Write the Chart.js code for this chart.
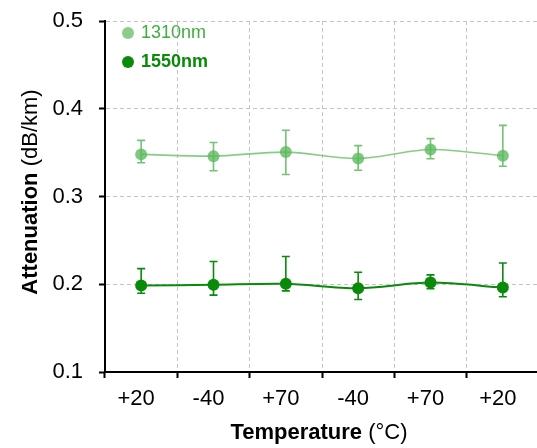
<!DOCTYPE html>
<html>
<head>
<meta charset="utf-8">
<script src="https://cdn.jsdelivr.net/npm/chart.js@4/dist/chart.umd.min.js"></script>
<style>
    html, body { margin: 0; padding: 0; background: #fff; overflow: hidden; }
    #wrap { width: 545px; height: 448px; }
</style>
</head>
<body>
<div id="wrap"><canvas id="attChart" width="545" height="448"></canvas></div>
<script>
// dữ liệu
const categories = ['+20', '-40', '+70', '-40', '+70', '+20'];
const yTicks = [0.1, 0.2, 0.3, 0.4, 0.5];

const att1310 = [0.348, 0.346, 0.3506, 0.3434, 0.3536, 0.3464];
const err1310High = [0.364, 0.3615, 0.3755, 0.358, 0.366, 0.381];
const err1310Low = [0.3385, 0.3294, 0.325, 0.330, 0.343, 0.3344];

const att1550 = [0.1985, 0.1994, 0.2005, 0.1955, 0.2019, 0.1962];
const err1550High = [0.2178, 0.226, 0.2317, 0.2136, 0.2107, 0.2242];
const err1550Low = [0.1898, 0.1876, 0.1925, 0.1827, 0.1948, 0.1858];

const FONT = '"Liberation Sans", Arial, sans-serif';
const light = 'rgba(92, 184, 92, 0.78)';
const lightLine = 'rgba(120, 200, 120, 0.9)';
const dark = '#0a8a0a';
const gridDash = [4, 3];

// vẽ thanh sai số
const errorBars = {
    id: 'errorBars',
    afterDatasetsDraw(chart) {
        const ctx = chart.ctx;
        const yScale = chart.scales.y;
        const sets = [
            { meta: chart.getDatasetMeta(0), hi: err1310High, lo: err1310Low, color: 'rgba(92, 184, 92, 0.85)' },
            { meta: chart.getDatasetMeta(1), hi: err1550High, lo: err1550Low, color: dark }
        ];
        ctx.save();
        sets.forEach(s => {
            ctx.strokeStyle = s.color;
            ctx.lineWidth = 1.6;
            s.meta.data.forEach((pt, i) => {
                const yh = yScale.getPixelForValue(s.hi[i]);
                const yl = yScale.getPixelForValue(s.lo[i]);
                ctx.beginPath();
                ctx.moveTo(pt.x, yh); ctx.lineTo(pt.x, yl);
                ctx.moveTo(pt.x - 4, yh); ctx.lineTo(pt.x + 4, yh);
                ctx.moveTo(pt.x - 4, yl); ctx.lineTo(pt.x + 4, yl);
                ctx.stroke();
            });
        });
        ctx.restore();
    }
};

// tiêu đề trục và chú thích
const labelsPlugin = {
    id: 'labelsPlugin',
    afterDraw(chart) {
        const ctx = chart.ctx;
        ctx.save();
        ctx.textBaseline = 'middle';
        ctx.fillStyle = '#000';

        // trục X
        const boldX = 'bold 22px ' + FONT, normX = '22px ' + FONT;
        ctx.font = boldX;
        const w1 = ctx.measureText('Temperature ').width;
        ctx.font = normX;
        const w2 = ctx.measureText('(°C)').width;
        let x0 = 319 - (w1 + w2) / 2;
        ctx.textAlign = 'left';
        ctx.font = boldX; ctx.fillText('Temperature ', x0, 433);
        ctx.font = normX; ctx.fillText('(°C)', x0 + w1, 433);

        // trục Y
        ctx.translate(31, 192);
        ctx.rotate(-Math.PI / 2);
        ctx.font = boldX;
        const v1 = ctx.measureText('Attenuation ').width;
        ctx.font = normX;
        const v2 = ctx.measureText('(dB/km)').width;
        x0 = -(v1 + v2) / 2;
        ctx.font = boldX; ctx.fillText('Attenuation ', x0, 0);
        ctx.font = normX; ctx.fillText('(dB/km)', x0 + v1, 0);
        ctx.restore();

        // chú thích
        ctx.save();
        ctx.textBaseline = 'middle';
        ctx.textAlign = 'left';
        ctx.fillStyle = 'rgba(120, 196, 120, 0.85)';
        ctx.beginPath(); ctx.arc(128, 33, 6, 0, Math.PI * 2); ctx.fill();
        ctx.fillStyle = '#3fae3f';
        ctx.font = '18px ' + FONT;
        ctx.fillText('1310nm', 141, 33);
        ctx.fillStyle = dark;
        ctx.beginPath(); ctx.arc(128, 62, 6, 0, Math.PI * 2); ctx.fill();
        ctx.font = 'bold 18px ' + FONT;
        ctx.fillText('1550nm', 141, 62);
        ctx.restore();
    }
};

const ctx = document.getElementById('attChart').getContext('2d');
new Chart(ctx, {
    type: 'line',
    data: {
        labels: categories,
        datasets: [
            {
                label: '1310nm',
                data: att1310,
                borderColor: lightLine,
                borderWidth: 1.6,
                backgroundColor: light,
                pointBackgroundColor: light,
                pointBorderWidth: 0,
                pointRadius: 6,
                tension: 0.3
            },
            {
                label: '1550nm',
                data: att1550,
                borderColor: dark,
                borderWidth: 2,
                backgroundColor: dark,
                pointBackgroundColor: dark,
                pointBorderWidth: 0,
                pointRadius: 6,
                tension: 0.3
            }
        ]
    },
    options: {
        responsive: false,
        animation: false,
        layout: { padding: { left: 49, right: 4, top: 21, bottom: 0 } },
        plugins: {
            legend: { display: false },
            tooltip: { enabled: false }
        },
        scales: {
            x: {
                offset: true,
                grid: {
                    offset: true,
                    color: (c) => c.index === 0 ? 'rgba(0,0,0,0)' : '#c4c4c4',
                    lineWidth: 1,
                    drawTicks: true,
                    tickLength: 6,
                    tickColor: '#000',
                    tickWidth: 2
                },
                border: { display: true, color: '#000', width: 2, dash: gridDash },
                ticks: {
                    color: '#000',
                    font: { family: FONT, size: 22 },
                    padding: 8,
                    labelOffset: -5,
                    maxRotation: 0,
                    autoSkip: false
                },
                afterFit(scale) { scale.height = 76; }
            },
            y: {
                min: 0.1,
                max: 0.5,
                afterBuildTicks(scale) { scale.ticks = yTicks.map(v => ({ value: v })); },
                grid: {
                    color: (c) => c.index === 0 ? 'rgba(0,0,0,0)' : '#c4c4c4',
                    lineWidth: 1,
                    tickLength: 6,
                    tickColor: '#000',
                    tickWidth: 2
                },
                border: { display: true, color: '#000', width: 2, dash: gridDash },
                ticks: {
                    color: '#000',
                    font: { family: FONT, size: 22 },
                    padding: 16,
                    callback: (v) => Number(v).toFixed(1)
                },
                afterFit(scale) {
                    scale.width = 56;
                    scale.paddingTop = 0;
                    scale.paddingBottom = 0;
                }
            }
        }
    },
    plugins: [errorBars, labelsPlugin]
});
</script>
</body>
</html>
